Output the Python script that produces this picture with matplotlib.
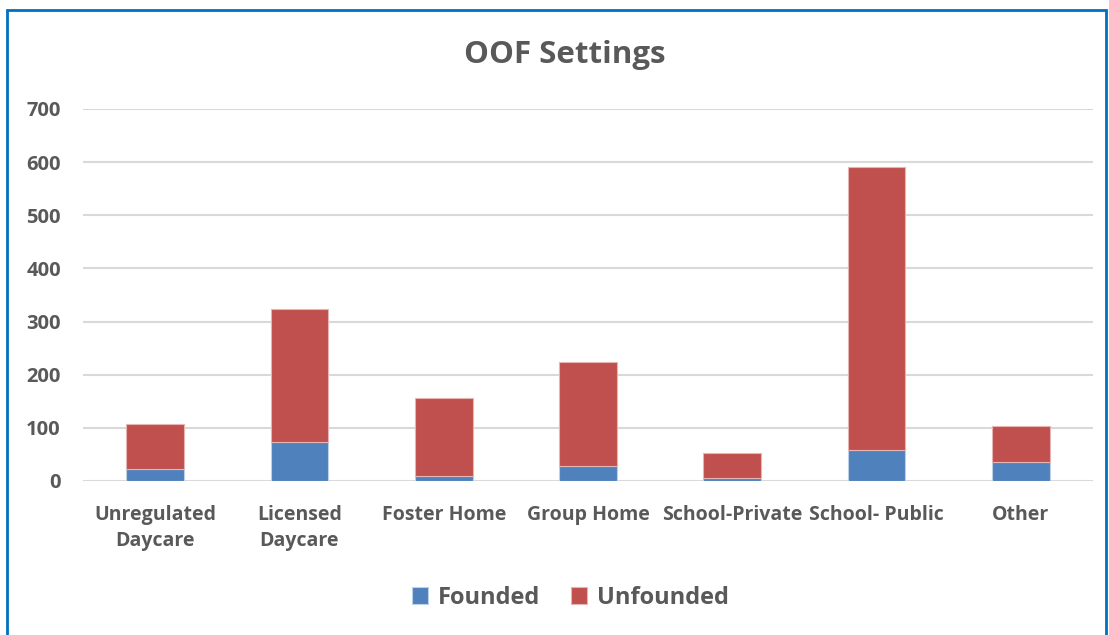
import matplotlib.pyplot as plt
from matplotlib.patches import Rectangle

categories = ["Unregulated\nDaycare", "Licensed\nDaycare", "Foster Home", "Group Home",
              "School-Private", "School- Public", "Other"]
founded = [23, 74, 9, 29, 6, 59, 35]
unfounded = [85, 250, 147, 194, 47, 532, 69]
yticks = [0, 100, 200, 300, 400, 500, 600, 700]

W, H = 1109, 635
blue = "#4F81BD"
red = "#C0504D"
grey = "#595959"

plt.rcParams['font.family'] = ['Open Sans', 'DejaVu Sans']
plt.rcParams['font.weight'] = 'bold'

fig = plt.figure(figsize=(W / 100, H / 100), dpi=100)

# outer blue frame
fig.patches.append(Rectangle((7 / W, -0.05), (1106 - 7) / W, 1 - 10 / H + 0.05,
                             transform=fig.transFigure, fill=False,
                             edgecolor="#0070C0", linewidth=2))

ax = fig.add_axes([83 / W, (H - 481) / H, (1093 - 83) / W, (481 - 109) / H])

x = range(len(categories))
b1 = ax.bar(x, founded, width=0.4, color=blue, edgecolor="#BCD0E8", linewidth=0.8,
            label="Founded", zorder=3)
b2 = ax.bar(x, unfounded, width=0.4, bottom=founded, color=red, edgecolor="#E6B4B3",
            linewidth=0.8, label="Unfounded", zorder=3)

ax.set_xlim(-0.5, len(categories) - 0.5)
ax.set_ylim(0, 700)
ax.set_yticks(yticks)
ax.set_yticklabels([str(t) for t in yticks], fontsize=14.5, fontweight='bold', color=grey)
ax.set_xticks(list(x))
ax.set_xticklabels(categories, fontsize=14, fontweight='bold', color=grey,
                   linespacing=1.45, va='top')
ax.tick_params(axis='both', length=0)
ax.tick_params(axis='x', pad=17)
ax.tick_params(axis='y', pad=16)
ax.grid(axis='y', color="#D9D9D9", linewidth=1.5, zorder=0)
for s in ax.spines.values():
    s.set_visible(False)

fig.text(565 / W, 1 - 55 / H, "OOF Settings", ha='center', va='center',
         fontsize=22.5, fontweight='bold', color=grey)

fig.legend(handles=[b1, b2], loc='center', bbox_to_anchor=(570 / W, 1 - 598 / H),
           ncol=2, frameon=False, handlelength=0.7, handleheight=0.7,
           handletextpad=0.4, columnspacing=1.3, labelcolor=grey,
           prop={'weight': 'bold', 'size': 17})

fig.savefig("out.png", dpi=100)
